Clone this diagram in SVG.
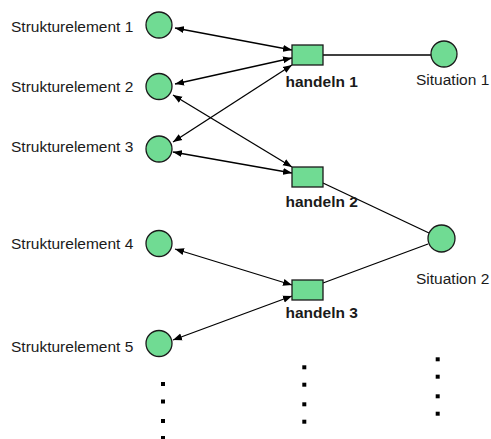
<svg xmlns="http://www.w3.org/2000/svg" width="491" height="439" viewBox="0 0 491 439">
<style>
.place{fill:#70db93;stroke:#1a1a1a;stroke-width:1.3}
.trans{fill:#70db93;stroke:#1a1a1a;stroke-width:1.3}
.lbl{font-family:"Liberation Sans",Arial,sans-serif;font-size:15.5px;fill:#1a1a1a}
.bold{font-weight:bold}
.arc{stroke:#000;stroke-width:1.3;fill:none}
.bi{marker-start:url(#ah);marker-end:url(#ah)}
.dot{fill:#000}
</style>
<defs>
<marker id="ah" markerUnits="userSpaceOnUse" markerWidth="10" markerHeight="8" refX="9" refY="4" orient="auto-start-reverse">
<path d="M0,0.5 L9,4 L0,7.5 Z" fill="#000"/>
</marker>
</defs>
<rect width="491" height="439" fill="#fff"/>
<g id="connectors">
<line class="arc bi" x1="175" y1="28" x2="292" y2="50"/>
<line class="arc bi" x1="175" y1="84" x2="292" y2="58"/>
<line class="arc bi" x1="173" y1="142" x2="292" y2="65"/>
<line class="arc bi" x1="173" y1="95" x2="292" y2="167"/>
<line class="arc bi" x1="173" y1="152" x2="292" y2="173"/>
<line class="arc bi" x1="175" y1="249" x2="292" y2="285"/>
<line class="arc bi" x1="173" y1="340" x2="292" y2="296"/>
<line class="arc" x1="323" y1="55" x2="431" y2="55"/>
<line class="arc" x1="323" y1="183" x2="429" y2="233"/>
<line class="arc" x1="323" y1="283" x2="428" y2="244"/>
</g>
<g id="s1"><circle class="place" cx="159" cy="25" r="13"/><text class="lbl" x="11" y="31.5">Strukturelement 1</text></g>
<g id="s2"><circle class="place" cx="159" cy="86.5" r="13"/><text class="lbl" x="11" y="91.5">Strukturelement 2</text></g>
<g id="s3"><circle class="place" cx="159" cy="149" r="13"/><text class="lbl" x="11" y="151.5">Strukturelement 3</text></g>
<g id="s4"><circle class="place" cx="159" cy="243.5" r="13"/><text class="lbl" x="11" y="249">Strukturelement 4</text></g>
<g id="s5"><circle class="place" cx="159" cy="343.5" r="13"/><text class="lbl" x="11" y="352">Strukturelement 5</text></g>
<g id="h1"><rect class="trans" x="292" y="45" width="31" height="20"/><text class="lbl bold" x="285.5" y="87">handeln 1</text></g>
<g id="h2"><rect class="trans" x="292" y="167" width="31" height="20"/><text class="lbl bold" x="285.5" y="207">handeln 2</text></g>
<g id="h3"><rect class="trans" x="292" y="280" width="31" height="20"/><text class="lbl bold" x="285.5" y="318">handeln 3</text></g>
<g id="sit1"><circle class="place" cx="444" cy="54" r="13"/><text class="lbl" x="416" y="85">Situation 1</text></g>
<g id="sit2"><circle class="place" cx="441.5" cy="238.5" r="13.5"/><text class="lbl" x="416" y="284">Situation 2</text></g>
<g id="ellipses">
<rect class="dot" x="161" y="382" width="4" height="4"/>
<rect class="dot" x="161" y="399.5" width="4" height="4"/>
<rect class="dot" x="161" y="419" width="4" height="4"/>
<rect class="dot" x="161" y="436" width="4" height="4"/>
<rect class="dot" x="302.3" y="365.3" width="4" height="4"/>
<rect class="dot" x="302.3" y="382.7" width="4" height="4"/>
<rect class="dot" x="302.3" y="402.3" width="4" height="4"/>
<rect class="dot" x="302.3" y="419.7" width="4" height="4"/>
<rect class="dot" x="435.7" y="357.3" width="4" height="4"/>
<rect class="dot" x="435.7" y="374.7" width="4" height="4"/>
<rect class="dot" x="435.7" y="394.3" width="4" height="4"/>
<rect class="dot" x="435.7" y="411.7" width="4" height="4"/>
</g>
</svg>
